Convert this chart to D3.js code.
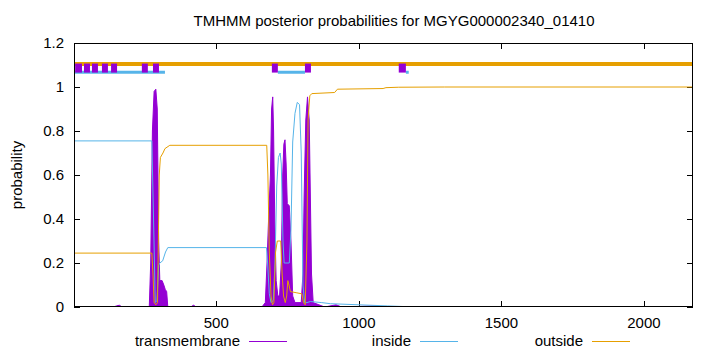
<!DOCTYPE html>
<html>
<head>
<meta charset="utf-8">
<script src="https://cdn.jsdelivr.net/npm/d3@7"></script>
<style>
  body { margin: 0; background: #fff; }
  svg text { font-family: "Liberation Sans", Arial, sans-serif; fill: #000; font-size: 15px; }
</style>
</head>
<body>
<div id="chart"></div>
<script>
// sequence length and axis ticks
const seqLength = 2172;
const xTicks = [500, 1000, 1500, 2000];
const yTicks = [0, 0.2, 0.4, 0.6, 0.8, 1, 1.2];
const seriesNames = ["transmembrane", "inside", "outside"];

// posterior probabilities, [position, probability]
const transmembrane = [
  [1,0],[140,0],[150,0.005],[160,0.008],[170,0],[265,0],[270,0.2],[276,0.8],[282,0.98],[288,0.99],
  [293,0.9],[298,0.3],[302,0.12],[310,0.12],[316,0.1],[321,0.08],[326,0.07],[330,0],
  [410,0],[420,0.008],[430,0],[660,0],[672,0.02],[678,0.2],[684,0.42],[690,0.6],[694,0.9],
  [698,0.955],[701,0.8],[705,0.4],[710,0.12],[716,0.05],[722,0.05],[728,0.2],[733,0.6],
  [737,0.74],[741,0.76],[745,0.65],[749,0.47],[756,0.46],[762,0.3],[768,0.05],[776,0.02],
  [798,0.02],[804,0.15],[808,0.5],[814,0.85],[820,0.955],[826,0.85],[830,0.5],[834,0.15],
  [840,0.02],[860,0.01],[880,0],[920,0.01],[940,0],[1060,0.005],[1080,0],[2172,0]
];
const inside = [
  [1,0.755],[274,0.755],[280,0.4],[286,0.02],[292,0.03],[298,0.19],[302,0.2],[312,0.21],
  [322,0.25],[330,0.27],[676,0.27],[680,0.2],[686,0.06],[692,0.02],[700,0.03],[706,0.2],
  [712,0.55],[718,0.68],[724,0.7],[728,0.65],[734,0.3],[738,0.2],[756,0.2],[762,0.35],
  [768,0.75],[776,0.88],[784,0.93],[792,0.92],[798,0.7],[804,0.1],[810,0.02],[818,0.02],
  [830,0.025],[870,0.02],[900,0.015],[1000,0.01],[1100,0.005],[1200,0],[2172,0]
];
const outside = [
  [1,0.245],[274,0.245],[278,0.15],[282,0.02],[288,0.01],[294,0.02],[300,0.6],[304,0.68],
  [313,0.7],[320,0.72],[337,0.735],[677,0.735],[681,0.6],[686,0.25],[692,0.05],[697,0.01],
  [702,0.02],[708,0.25],[714,0.3],[726,0.3],[731,0.15],[736,0.05],[742,0.02],[747,0.05],
  [751,0.12],[755,0.1],[760,0.07],[780,0.065],[800,0.06],[806,0.02],[812,0.01],[818,0.3],
  [822,0.85],[828,0.96],[835,0.97],[915,0.975],[925,0.99],[1085,0.993],[1095,0.997],
  [1140,0.999],[1300,1],[2172,1]
];

// predicted topology shown above the curves, [start, end]
const outsideSegments = [[1, 2172]];
const insideSegments = [[1, 320], [716, 811], [1165, 1175]];
const helixSegments = [[5,29],[36,57],[64,85],[99,120],[131,152],[239,260],[278,299],[695,716],[811,832],[1140,1165]];

const width = 720;
const height = 352;
const margin = {top: 43, right: 27, bottom: 45, left: 74};

const colors = {transmembrane: "#9400d3", inside: "#56b4e9", outside: "#e69f00"};

const svg = d3.select("#chart")
  .append("svg")
    .attr("width", width)
    .attr("height", height);

const x = d3.scaleLinear()
  .domain([1, seqLength])
  .range([margin.left, width - margin.right]);

const y = d3.scaleLinear()
  .domain([0, 1.2])
  .range([height - margin.bottom, margin.top]);

svg.append("defs")
  .append("clipPath")
    .attr("id", "plot-clip")
  .append("rect")
    .attr("x", margin.left)
    .attr("y", margin.top)
    .attr("width", width - margin.left - margin.right)
    .attr("height", height - margin.top - margin.bottom);

// title
svg.append("text")
    .text("TMHMM posterior probabilities for MGYG000002340_01410")
    .attr("x", 394)
    .attr("y", 26)
    .attr("text-anchor", "middle");

// y axis label
svg.append("text")
    .text("probability")
    .attr("transform", `translate(22, ${(margin.top + height - margin.bottom) / 2}) rotate(-90)`)
    .attr("text-anchor", "middle");

// tick marks, inward and mirrored like gnuplot
const ticks = svg.append("g").attr("stroke", "#000").attr("stroke-width", 1);
ticks.selectAll("line.ytick-l")
  .data(yTicks)
  .join("line")
    .attr("class", "ytick-l")
    .attr("x1", margin.left).attr("x2", margin.left + 6)
    .attr("y1", d => Math.round(y(d)) + 0.5).attr("y2", d => Math.round(y(d)) + 0.5);
ticks.selectAll("line.ytick-r")
  .data(yTicks)
  .join("line")
    .attr("class", "ytick-r")
    .attr("x1", width - margin.right).attr("x2", width - margin.right - 6)
    .attr("y1", d => Math.round(y(d)) + 0.5).attr("y2", d => Math.round(y(d)) + 0.5);
ticks.selectAll("line.xtick-b")
  .data(xTicks)
  .join("line")
    .attr("class", "xtick-b")
    .attr("x1", d => Math.round(x(d)) + 0.5).attr("x2", d => Math.round(x(d)) + 0.5)
    .attr("y1", height - margin.bottom).attr("y2", height - margin.bottom - 6);
ticks.selectAll("line.xtick-t")
  .data(xTicks)
  .join("line")
    .attr("class", "xtick-t")
    .attr("x1", d => Math.round(x(d)) + 0.5).attr("x2", d => Math.round(x(d)) + 0.5)
    .attr("y1", margin.top).attr("y2", margin.top + 6);

// tick labels
svg.append("g")
  .selectAll("text")
  .data(yTicks)
  .join("text")
    .text(d => d)
    .attr("x", margin.left - 10)
    .attr("y", d => y(d))
    .attr("dy", "0.35em")
    .attr("text-anchor", "end");
svg.append("g")
  .selectAll("text")
  .data(xTicks)
  .join("text")
    .text(d => d)
    .attr("x", d => x(d))
    .attr("y", height - margin.bottom + 21)
    .attr("text-anchor", "middle");

const plot = svg.append("g").attr("clip-path", "url(#plot-clip)");

// topology bars
plot.selectAll("line.outside-seg")
  .data(outsideSegments)
  .join("line")
    .attr("class", "outside-seg")
    .attr("x1", d => x(d[0])).attr("x2", d => x(d[1]))
    .attr("y1", y(1.105)).attr("y2", y(1.105))
    .attr("stroke", colors.outside)
    .attr("stroke-width", 4);
plot.selectAll("line.inside-seg")
  .data(insideSegments)
  .join("line")
    .attr("class", "inside-seg")
    .attr("x1", d => x(d[0])).attr("x2", d => x(d[1]))
    .attr("y1", y(1.067)).attr("y2", y(1.067))
    .attr("stroke", colors.inside)
    .attr("stroke-width", 3);
plot.selectAll("rect.helix-seg")
  .data(helixSegments)
  .join("rect")
    .attr("class", "helix-seg")
    .attr("x", d => x(d[0]))
    .attr("width", d => x(d[1]) - x(d[0]))
    .attr("y", y(1.086) - 4.5)
    .attr("height", 9)
    .attr("fill", colors.transmembrane);

// transmembrane as filled impulses
const area = d3.area()
  .x(d => x(d[0]))
  .y0(y(0))
  .y1(d => y(d[1]));
plot.append("path")
    .attr("d", area(transmembrane))
    .attr("fill", colors.transmembrane)
    .attr("stroke", colors.transmembrane)
    .attr("stroke-width", 1);

const line = d3.line()
  .x(d => x(d[0]))
  .y(d => y(d[1]));
plot.append("path")
    .attr("d", line(inside))
    .attr("fill", "none")
    .attr("stroke", colors.inside)
    .attr("stroke-width", 1);
plot.append("path")
    .attr("d", line(outside))
    .attr("fill", "none")
    .attr("stroke", colors.outside)
    .attr("stroke-width", 1);

// border
svg.append("rect")
    .attr("x", margin.left + 0.5)
    .attr("y", margin.top + 0.5)
    .attr("width", width - margin.left - margin.right - 1)
    .attr("height", height - margin.top - margin.bottom - 1)
    .attr("fill", "none")
    .attr("stroke", "#000")
    .attr("stroke-width", 1);

// legend along the bottom
const legendTextEnd = [240, 411, 583];
const legend = svg.append("g")
  .selectAll("g")
  .data(seriesNames)
  .join("g")
    .attr("transform", (d, i) => `translate(${legendTextEnd[i]}, 341)`);
legend.append("text")
    .text(d => d)
    .attr("text-anchor", "end")
    .attr("dy", "0.35em");
legend.append("line")
    .attr("x1", 9).attr("x2", 47)
    .attr("y1", 0.5).attr("y2", 0.5)
    .attr("stroke", d => colors[d])
    .attr("stroke-width", 1);
</script>
</body>
</html>
